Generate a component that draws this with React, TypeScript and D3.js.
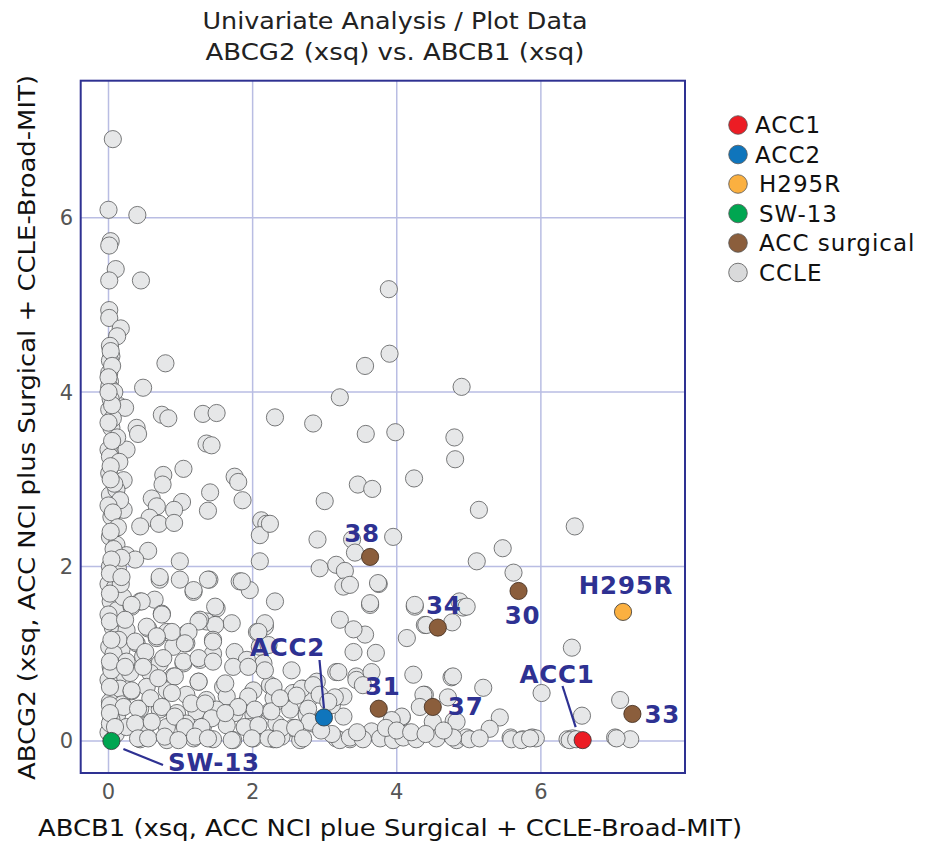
import React from "react";
import * as d3 from "d3";

const titleLines = ["Univariate Analysis / Plot Data", "ABCG2 (xsq) vs. ABCB1 (xsq)"];
const xAxisTitle = "ABCB1 (xsq, ACC NCI plue Surgical + CCLE-Broad-MIT)";
const yAxisTitle = "ABCG2 (xsq, ACC NCI plus Surgical + CCLE-Broad-MIT)";
const xTicks = [0, 2, 4, 6];
const yTicks = [0, 2, 4, 6];

const legendNames = ["ACC1", "ACC2", "H295R", "SW-13", "ACC surgical", "CCLE"];
const legendColors = ["#ec1c24", "#0f75bc", "#fbb040", "#00a651", "#8b5e3c", "#d9dadb"];

// [ABCB1, ABCG2]
const cclePoints: [number, number][] = [
  [0.06,6.90],[0.0,6.09],[0.40,6.03],[0.03,5.73],[0.01,5.68],[0.10,5.41],[0.01,5.28],[0.45,5.28],[0.01,4.94],[0.01,4.85],
  [0.17,4.73],[0.12,4.64],[0.02,4.53],[0.04,4.41],[0.02,4.36],[0.79,4.33],[0.01,4.22],[0.02,4.12],[0.48,4.05],[0.01,4.06],
  [0.01,3.80],[0.15,3.84],[0.23,3.82],[0.74,3.74],[0.83,3.70],[1.31,3.75],[1.50,3.76],[2.31,3.71],[0.04,3.59],[0.39,3.59],
  [0.41,3.52],[1.36,3.41],[1.43,3.39],[0.09,3.38],[0.0,3.34],[0.25,3.34],[0.02,3.26],[1.04,3.12],[0.76,3.05],[1.75,3.03],
  [1.80,2.97],[0.01,3.07],[0.21,2.99],[0.75,2.94],[0.02,2.82],[0.11,2.88],[1.41,2.85],[0.60,2.78],[1.02,2.74],[1.86,2.76],
  [1.38,2.64],[0.67,2.69],[0.91,2.65],[0.21,2.65],[0.04,2.57],[0.57,2.56],[0.44,2.46],[0.70,2.49],[0.91,2.50],[2.12,2.53],
  [2.19,2.49],[2.10,2.36],[0.02,2.34],[0.11,2.25],[0.25,2.13],[0.55,2.18],[0.99,2.06],[2.10,2.06],[0.02,2.0],[0.13,1.98],[0.37,2.08],
  [0.03,4.47],[0.05,4.30],[0.0,4.17],[0.08,4.00],[0.03,3.92],[0.06,3.70],[0.0,3.65],[0.12,3.48],[0.05,3.44],[0.15,3.20],
  [0.03,3.15],[0.08,2.95],[0.16,2.76],[0.0,2.70],[0.06,2.62],[0.13,2.45],[0.03,2.40],[0.07,2.20],[0.18,2.10],[0.04,2.08],
  [0.0,1.80],[0.09,1.76],[0.03,1.60],[0.12,1.50],[0.0,1.45],[0.06,1.30],[0.14,1.22],[0.01,1.08],[0.08,0.98],[0.03,0.85],
  [0.13,0.72],[0.0,0.70],[0.07,0.52],[0.02,0.45],[0.12,0.30],[0.04,0.25],[0.0,0.10],[0.10,0.08],[0.16,0.60],[0.18,1.05],
  [0.20,1.65],[0.17,1.80],[0.22,0.90],[0.19,0.42],[0.03,3.00],[0.05,3.85],[0.0,4.00],
  [0.71,1.85],[0.99,1.85],[1.18,1.71],[1.40,1.85],[1.82,1.83],[1.96,1.73],[2.31,1.60],[0.44,1.60],[0.64,1.62],[0.32,1.54],
  [0.74,1.46],[1.50,1.52],[1.36,1.37],[1.71,1.35],[1.48,1.33],[2.17,1.31],[2.06,1.25],[1.27,1.39],[0.25,1.27],[0.55,1.29],
  [0.81,1.25],[1.08,1.23],[0.14,1.16],[0.39,1.12],[0.67,1.18],[0.90,1.08],[1.08,1.12],[1.45,1.16],[1.75,1.02],[1.92,0.93],
  [2.10,1.08],[0.07,1.00],[0.25,0.91],[0.48,0.97],[0.71,0.89],[1.04,0.89],[1.27,0.93],[1.45,1.00],[1.73,0.85],[2.15,0.89],
  [2.54,0.81],[3.16,0.79],[0.04,0.81],[0.30,0.78],[0.58,0.78],[0.90,0.74],[1.25,0.68],[1.59,0.62],[2.01,0.58],[2.24,0.64],
  [2.70,0.60],[2.89,0.68],[3.26,0.51],[3.44,0.74],[0.02,0.62],[0.32,0.57],[0.53,0.62],[0.81,0.58],[1.08,0.53],[1.36,0.47],
  [1.64,0.51],[1.92,0.45],[2.33,0.45],[2.56,0.55],[2.79,0.49],[0.02,0.41],[0.21,0.39],[0.44,0.37],[0.71,0.36],[0.95,0.32],
  [1.22,0.34],[1.50,0.36],[1.75,0.32],[2.01,0.30],[2.24,0.34],[2.52,0.36],[2.75,0.30],[3.26,0.28],[0.02,0.20],[0.25,0.16],
  [0.53,0.18],[0.81,0.16],[1.08,0.20],[1.31,0.16],[1.64,0.18],[1.96,0.16],[2.33,0.20],[2.56,0.15],[2.84,0.20],[0.44,0.02],
  [0.81,0.01],[1.18,0.03],[1.45,0.02],[1.73,0.01],[2.01,0.03],[2.29,0.02],[2.66,0.01],[3.16,0.03],[3.35,0.02],
  [0.02,1.92],[0.18,1.88],[0.71,1.88],[1.18,1.73],[1.38,1.85],[1.85,1.83],[0.02,1.69],[0.46,1.60],[0.32,1.56],[0.74,1.45],
  [1.48,1.54],[0.02,1.37],[0.23,1.39],[1.25,1.37],[2.17,1.35],[2.08,1.25],[0.53,1.31],[0.88,1.25],[1.11,1.25],[0.04,1.16],
  [0.37,1.14],[0.67,1.20],[1.06,1.12],[1.45,1.14],[2.22,1.10],[0.51,1.02],[0.76,0.95],[1.04,0.91],[1.25,0.95],[1.45,0.91],
  [1.94,0.85],[2.17,0.81],[0.02,0.91],[0.23,0.85],[0.48,0.85],[1.25,0.68],[0.92,0.74],[0.69,0.72],[0.32,0.58],[0.58,0.49],
  [0.88,0.55],[1.62,0.66],[1.94,0.51],[2.29,0.49],[1.15,0.43],[1.34,0.43],[0.41,0.37],[0.74,0.39],[1.80,0.39],[2.03,0.36],
  [0.02,0.32],[0.92,0.28],[1.43,0.26],[1.62,0.32],[2.26,0.34],[0.37,0.20],[0.60,0.22],[1.06,0.16],[1.29,0.16],[1.89,0.16],
  [2.08,0.18],[0.09,0.16],[0.41,0.03],[0.55,0.03],[0.78,0.05],[0.97,0.01],[1.20,0.05],[1.38,0.03],[1.71,0.01],[1.99,0.03],
  [2.22,0.03],[2.40,0.05],
  [3.21,3.94],[2.84,3.64],[3.57,3.52],[3.98,3.54],[4.90,4.06],[4.80,3.48],[4.81,3.23],[4.24,3.01],[3.46,2.94],[3.66,2.89],
  [3.00,2.75],[2.24,2.49],[2.90,2.31],[3.38,2.31],[3.95,2.34],[3.42,2.16],[2.93,1.98],[3.16,2.02],[3.28,1.95],
  [3.89,5.18],[3.90,4.44],[3.56,4.30],[5.14,2.65],[6.47,2.46],[5.47,2.21],[5.11,2.06],[5.62,1.93],[3.75,1.80],[3.63,1.56],
  [4.25,1.54],[4.87,1.60],[4.92,1.53],[4.39,1.33],[4.77,1.36],[3.56,1.22],[4.14,1.18],[3.71,1.01],[6.43,1.07],[4.23,0.76],
  [4.76,0.73],[5.20,0.61],[6.01,0.55],[7.10,0.47],[6.57,0.29],[4.39,0.53],[4.71,0.50],[4.79,0.23],[5.43,0.27],[5.29,0.14],
  [4.07,0.27],[5.58,0.04],[5.75,0.02],[5.88,0.04],[5.93,0.03],[6.37,0.02],[6.44,0.03],[7.03,0.04],[7.24,0.02],
  [3.26,1.77],[3.35,1.79],[3.74,1.81],[3.63,1.58],[4.25,1.56],[4.97,1.54],[4.41,1.33],[3.21,1.39],[3.40,1.28],[3.40,1.02],
  [3.19,0.79],[3.65,0.79],[3.44,0.70],[3.53,0.64],[2.29,0.62],[2.68,0.60],[2.84,0.64],[4.37,0.53],[2.38,0.49],[2.61,0.52],
  [4.32,0.39],[2.77,0.37],[3.10,0.41],[4.07,0.28],[3.93,0.24],[4.50,0.22],[2.79,0.22],[2.40,0.15],[2.59,0.15],[3.65,0.11],
  [2.33,0.02],[2.70,0.03],[3.21,0.01],[3.35,0.04],[3.53,0.02],[3.77,0.03],[3.95,0.01],[4.09,0.04],[4.27,0.02],[4.55,0.03],
  [4.83,0.01],[4.97,0.04],[4.78,0.74],[4.83,0.22],[5.01,0.02],[5.15,0.03],[5.59,0.02],[5.73,0.01],[5.85,0.03],[6.40,0.01],
  [6.49,0.02],[7.05,0.03],[4.78,0.04],[2.93,0.53],[3.14,0.50],[3.05,0.45],[3.85,0.15],[4.00,0.12],[4.20,0.10],[4.40,0.08],
  [4.65,0.12],[3.45,0.10],[3.10,0.08],[2.95,0.12],
];

const cellLineNames = ["SW-13", "ACC2", "ACC1", "H295R"];
const cellLineX = [0.04, 2.99, 6.58, 7.14];
const cellLineY = [0.0, 0.27, 0.01, 1.48];
const cellLineColors = ["#00a651", "#0f75bc", "#ec1c24", "#fbb040"];

const surgicalIds = ["38", "34", "31", "37", "30", "33"];
const surgicalX = [3.63, 4.57, 3.75, 4.50, 5.69, 7.27];
const surgicalY = [2.11, 1.30, 0.37, 0.39, 1.72, 0.31];

const W = 930;
const H = 844;
const left = 80.7, right = 685, top = 80.7, bottom = 773;

export default function App() {
  const x = d3.scaleLinear().domain([-0.386, 8.0]).range([left, right]);
  const y = d3.scaleLinear().domain([-0.367, 7.57]).range([bottom, top]);
  const r = 8.6;
  const navy = "#2e3192";
  const font = "'DejaVu Sans', Verdana, sans-serif";

  const labelFor = (id: string, px: number, py: number) => {
    switch (id) {
      case "38": return { tx: px - 8, ty: py - 15, anchor: "middle" };
      case "34": return { tx: px + 6, ty: py - 14, anchor: "middle" };
      case "31": return { tx: px + 4, ty: py - 14, anchor: "middle" };
      case "37": return { tx: px + 15, ty: py + 8, anchor: "start" };
      case "30": return { tx: px + 4, ty: py + 33, anchor: "middle" };
      case "33": return { tx: px + 12, ty: py + 9, anchor: "start" };
      default: return { tx: px, ty: py, anchor: "middle" };
    }
  };

  return (
    <div style={{ position: "absolute", left: 0, top: 0 }}>
      <svg width={W} height={H} style={{ display: "block", background: "#fff" }} fontFamily={font}>
        {titleLines.map((t, i) => (
          <text key={t} x={395} y={29 + i * 31} textAnchor="middle" fontSize={22.5} fill="#222"
            textLength={i === 0 ? 385 : 379} lengthAdjust="spacingAndGlyphs">{t}</text>
        ))}
        {xTicks.map((t) => (
          <line key={"gx" + t} x1={x(t)} x2={x(t)} y1={top} y2={bottom} stroke="#b9bde3" strokeWidth={1.5} />
        ))}
        {yTicks.map((t) => (
          <line key={"gy" + t} x1={left} x2={right} y1={y(t)} y2={y(t)} stroke="#b9bde3" strokeWidth={1.5} />
        ))}
        {xTicks.map((t) => (
          <text key={"tx" + t} x={x(t)} y={799} textAnchor="middle" fontSize={21} fill="#555">{t}</text>
        ))}
        {yTicks.map((t) => (
          <text key={"ty" + t} x={73} y={y(t) + 7.5} textAnchor="end" fontSize={21} fill="#555">{t}</text>
        ))}
        <text x={390} y={836} textAnchor="middle" fontSize={22.5} fill="#111"
          textLength={704} lengthAdjust="spacingAndGlyphs">{xAxisTitle}</text>
        <text transform={`translate(35,${427.5}) rotate(-90)`} textAnchor="middle" fontSize={22.5} fill="#111"
          textLength={705} lengthAdjust="spacingAndGlyphs">{yAxisTitle}</text>

        <g>
          {cclePoints.map((p, i) => (
            <circle key={"c" + i} cx={x(p[0])} cy={y(p[1])} r={r} fill="#e6e7e8" stroke="#58595b" strokeWidth={0.8} />
          ))}
        </g>

        <line x1={x(cellLineX[0]) + 12} y1={y(cellLineY[0]) + 8} x2={163} y2={765} stroke={navy} strokeWidth={2.2} />
        <line x1={319.5} y1={660} x2={x(cellLineX[1])} y2={y(cellLineY[1]) - 9} stroke={navy} strokeWidth={2.2} />
        <line x1={562.5} y1={686} x2={x(cellLineX[2]) - 7} y2={y(cellLineY[2]) - 13} stroke={navy} strokeWidth={2.2} />

        {surgicalIds.map((id, i) => (
          <circle key={"s" + id} cx={x(surgicalX[i])} cy={y(surgicalY[i])} r={r} fill="#8b5e3c" stroke="#3d2a1c" strokeWidth={0.8} />
        ))}
        {cellLineNames.map((n, i) => (
          <circle key={"cl" + n} cx={x(cellLineX[i])} cy={y(cellLineY[i])} r={r} fill={cellLineColors[i]} stroke="#333" strokeWidth={0.8} />
        ))}

        <g fontWeight="bold" fontSize={24.5} fill={navy} letterSpacing={0.8}>
          {surgicalIds.map((id, i) => {
            const px = x(surgicalX[i]);
            const py = y(surgicalY[i]);
            const l = labelFor(id, px, py);
            return <text key={"l" + id} x={l.tx} y={l.ty} textAnchor={l.anchor as any}>{id}</text>;
          })}
          <text x={168} y={771} textAnchor="start">{cellLineNames[0]}</text>
          <text x={287.5} y={656} textAnchor="middle">{cellLineNames[1]}</text>
          <text x={557} y={683} textAnchor="middle">{cellLineNames[2]}</text>
          <text x={626} y={594} textAnchor="middle">{cellLineNames[3]}</text>
        </g>

        <rect x={left} y={top} width={right - left} height={bottom - top} fill="none" stroke={navy} strokeWidth={2} />

        {legendNames.map((n, i) => (
          <g key={"lg" + n}>
            <circle cx={738} cy={125 + i * 29.5} r={9.3} fill={legendColors[i]} stroke="#555" strokeWidth={0.8} />
            <text x={i < 2 ? 755 : 759} y={125 + i * 29.5 + 8} fontSize={23} letterSpacing={1} fill="#111">{n}</text>
          </g>
        ))}
      </svg>
    </div>
  );
}
